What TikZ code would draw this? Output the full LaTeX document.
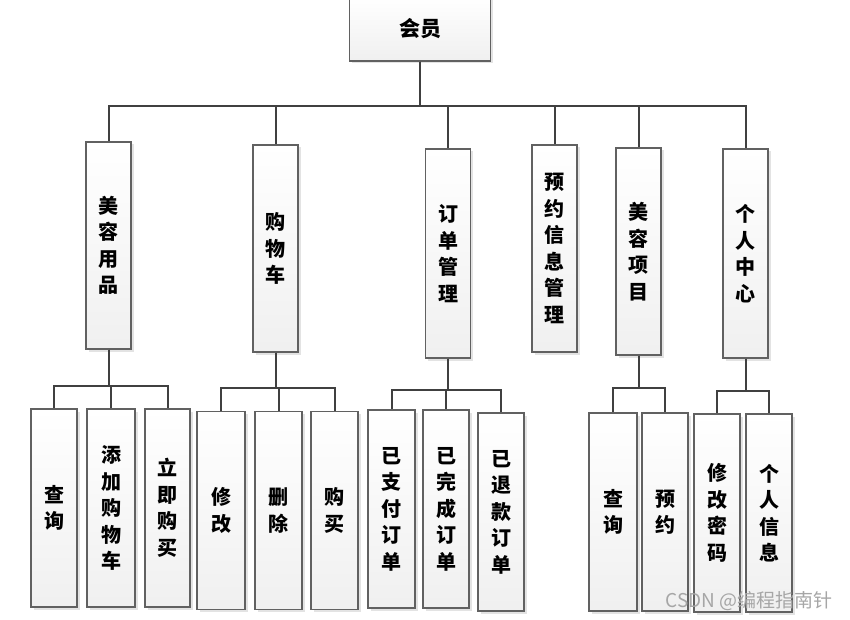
\documentclass[tikz,border=0pt]{standalone}
\usepackage{fontspec}
\newfontfamily\cjk{Noto Sans CJK SC}
\usepackage{tikz}
\usetikzlibrary{shadows}
\usepackage{xcolor}

\tikzset{
  box/.style={draw=black!62,line width=1.1pt,top color=white,bottom color=black!6,
    drop shadow={shadow xshift=2.5pt,shadow yshift=-2.5pt,opacity=0.18,fill=black!60},
    align=center,inner sep=0pt,font=\cjk\bfseries\fontsize{20}{26.5}\selectfont},
  topbox/.style={box,minimum width=141pt,minimum height=64pt,font=\cjk\bfseries\fontsize{21}{26}\selectfont},
  mainbox/.style={box,minimum width=45pt,minimum height=207pt},
  leafbox/.style={box,minimum width=46pt,minimum height=198pt},
  link/.style={draw=black!75,line width=2pt,line join=miter},
  wmark/.style={text=black!35,font=\cjk\fontsize{19}{21}\selectfont,inner sep=0pt}
}

\begin{document}
\begin{tikzpicture}[x=1pt,y=-1pt]
\useasboundingbox (0,0) rectangle (850,620);
% levels of the tree
\coordinate (bus0) at (0,106);
\coordinate (bus1) at (0,386);
\coordinate (bus2) at (0,388);
\coordinate (bus3) at (0,390);
\coordinate (bus5) at (0,388);
\coordinate (bus6) at (0,391);
\node[topbox] (hy) at (420,29) {会员};
\node[mainbox] (mryp) at (108.5,245.5) {美\\容\\用\\品};
\node[mainbox] (gwc) at (275.5,248.5) {购\\物\\车};
\node[mainbox,minimum height=209pt] (ddgl) at (448,253.5) {订\\单\\管\\理};
\node[mainbox] (yyxx) at (554.5,248.5) {预\\约\\信\\息\\管\\理};
\node[mainbox] (mrxm) at (638.5,251.5) {美\\容\\项\\目};
\node[mainbox,minimum height=209pt] (grzx) at (745.5,253.5) {个\\人\\中\\心};
% leaves
\node[leafbox] (cx) at (54,508) {查\\询};
\node[leafbox,minimum width=48pt] (tjgwc) at (111,508) {添\\加\\购\\物\\车};
\node[leafbox,minimum width=45pt] (ljgm) at (167.5,508) {立\\即\\购\\买};
\node[leafbox,minimum width=48pt] (xg) at (221,510.5) {修\\改};
\node[leafbox,minimum width=47pt] (sc) at (278.5,510.5) {删\\除};
\node[leafbox,minimum width=47pt] (gm) at (334.5,510.5) {购\\买};
\node[leafbox,minimum width=47pt] (yzf) at (391.5,509) {已\\支\\付\\订\\单};
\node[leafbox] (ywc) at (446,509) {已\\完\\成\\订\\单};
\node[leafbox] (ytk) at (501,512) {已\\退\\款\\订\\单};
\node[leafbox,minimum width=48pt] (xmcx) at (613,512) {查\\询};
\node[leafbox] (yy) at (665,512) {预\\约};
\node[leafbox] (xgmm) at (717,513) {修\\改\\密\\码};
\node[leafbox] (grxx) at (769,513) {个\\人\\信\\息};
% connectors
\draw[link] (hy.south) |- (mryp.north |- bus0) -- (mryp.north);
\draw[link] (hy.south) |- (gwc.north |- bus0) -- (gwc.north);
\draw[link] (hy.south) |- (ddgl.north |- bus0) -- (ddgl.north);
\draw[link] (hy.south) |- (yyxx.north |- bus0) -- (yyxx.north);
\draw[link] (hy.south) |- (mrxm.north |- bus0) -- (mrxm.north);
\draw[link] (hy.south) |- (grzx.north |- bus0) -- (grzx.north);
\draw[link] (mryp.south) |- (cx.north |- bus1) -- (cx.north);
\draw[link] (mryp.south) |- (tjgwc.north |- bus1) -- (tjgwc.north);
\draw[link] (mryp.south) |- (ljgm.north |- bus1) -- (ljgm.north);
\draw[link] (gwc.south) |- (xg.north |- bus2) -- (xg.north);
\draw[link] (gwc.south) |- (sc.north |- bus2) -- (sc.north);
\draw[link] (gwc.south) |- (gm.north |- bus2) -- (gm.north);
\draw[link] (ddgl.south) |- (yzf.north |- bus3) -- (yzf.north);
\draw[link] (ddgl.south) |- (ywc.north |- bus3) -- (ywc.north);
\draw[link] (ddgl.south) |- (ytk.north |- bus3) -- (ytk.north);
\draw[link] (mrxm.south) |- (xmcx.north |- bus5) -- (xmcx.north);
\draw[link] (mrxm.south) |- (yy.north |- bus5) -- (yy.north);
\draw[link] (grzx.south) |- (xgmm.north |- bus6) -- (xgmm.north);
\draw[link] (grzx.south) |- (grxx.north |- bus6) -- (grxx.north);
\node[wmark] (csdn) at (749,601) {CSDN @编程指南针};
\end{tikzpicture}
\end{document}
